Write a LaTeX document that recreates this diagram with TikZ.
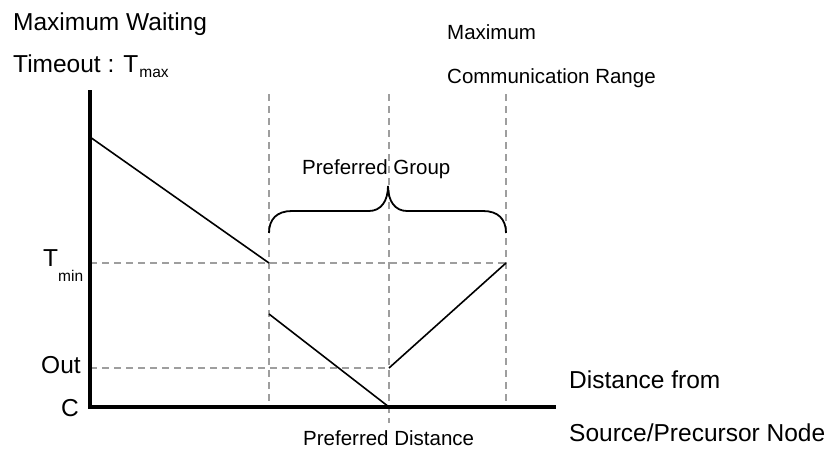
\documentclass[tikz,border=0pt]{standalone}
\usepackage{fontspec}
\setmainfont{Liberation Sans}
\newcommand{\bigtxt}{\fontsize{24.5}{28}\selectfont}
\newcommand{\smalltxt}{\fontsize{20.5}{24}\selectfont}
\newcommand{\subtxt}{\fontsize{15.5}{18}\selectfont}
\begin{document}
\begin{tikzpicture}[x=1pt,y=-1pt,
  axisline/.style={line width=3.8pt,black},
  curveline/.style={line width=1.6pt,black},
  guide/.style={line width=1.8pt,color=black!38,dash pattern=on 7pt off 5pt},
  bracepath/.style={line width=1.8pt,black},
  lbl/.style={inner sep=0pt,anchor=base west,text=black}]
\useasboundingbox (0,0) rectangle (827,450);

% axes corner points
\coordinate (O) at (90,407);
\coordinate (Ytop) at (90,90);
\coordinate (Xend) at (556,407);

% waiting-time curve points
\coordinate (A) at (90,137);
\coordinate (B) at (269,263);
\coordinate (Cc) at (269,314);
\coordinate (D) at (389,407);
\coordinate (E) at (389,368);
\coordinate (F) at (506,263);

% guide ends
\coordinate (g1t) at (269,94);
\coordinate (g1b) at (269,407);
\coordinate (g2t) at (389,94);
\coordinate (g2b) at (389,423);
\coordinate (g3t) at (506,94);
\coordinate (g3b) at (506,407);
\coordinate (tminL) at (90,263);
\coordinate (outL) at (90,368);

% dashed guide lines
\draw[guide] (g1t) -- (g1b);
\draw[guide] (g2t) -- (g2b);
\draw[guide] (g3t) -- (g3b);
\draw[guide] (tminL) -- (F);
\draw[guide] (outL) -- (E);

% waiting-time segments
\draw[curveline] (A) -- (B);
\draw[curveline] (Cc) -- (D);
\draw[curveline] (E) -- (F);

% axes
\draw[axisline,line join=miter] (Ytop) -- (O) -- (Xend);

% curly brace over the preferred group
\coordinate (brL) at (269,233);
\coordinate (brTip) at (388,186);
\coordinate (brR) at (506,233);
\draw[bracepath] (brL) .. controls (269,219) and (277,211) .. (292,211)
  -- (369,211) .. controls (381,211) and (388,201) .. (brTip)
  .. controls (388,201) and (395,211) .. (407,211)
  -- (483,211) .. controls (498,211) and (506,219) .. (brR);

% labels
\node[lbl] (lmw) at (13,30) {\bigtxt Maximum Waiting};
\node[lbl] (lto) at (13,72) {\bigtxt Timeout : T\kern1pt\raisebox{-5pt}{\subtxt max}};
\node[lbl] (lmx) at (447,39) {\smalltxt Maximum};
\node[lbl] (lcr) at (447,83) {\smalltxt Communication Range};
\node[lbl] (ltmin) at (43,266) {\bigtxt T\raisebox{-15pt}{\subtxt min}};
\node[lbl] (lout) at (41,373) {\bigtxt Out};
\node[lbl] (lc) at (61,416) {\bigtxt C};
\node[lbl] (lpg) at (302,174) {\smalltxt Preferred Group};
\node[lbl] (lpd) at (303,445) {\smalltxt Preferred Distance};
\node[lbl] (ldf) at (569,388) {\bigtxt Distance from};
\node[lbl] (lsp) at (569,441) {\bigtxt Source/Precursor Node};
\end{tikzpicture}
\end{document}
